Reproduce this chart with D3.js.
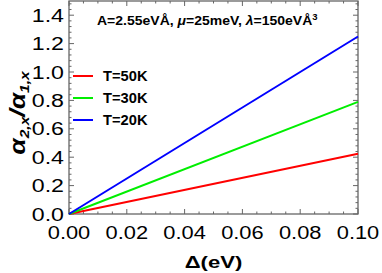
<!DOCTYPE html>
<html>
<head>
<meta charset="utf-8">
<script src="https://cdn.jsdelivr.net/npm/d3@7"></script>
<style>
  body { margin: 0; background: #fff; }
  text { font-family: "Liberation Sans", Arial, sans-serif; }
</style>
</head>
<body>
<svg id="chart" width="382" height="273"></svg>
<script>
const delta = [0, 0.1];
const series = [
    { name: "T=50K", color: "#ff0000", values: [0, 0.425] },
    { name: "T=30K", color: "#00ee00", values: [0, 0.79] },
    { name: "T=20K", color: "#0000ff", values: [0, 1.25] }
];
const xTicks = [0, 0.02, 0.04, 0.06, 0.08, 0.10];
const yTicks = [0, 0.2, 0.4, 0.6, 0.8, 1.0, 1.2, 1.4];

const width = 382;
const height = 273;
const margin = { top: 1, right: 24, bottom: 59, left: 69 };

const svg = d3.select("#chart");

const x = d3.scaleLinear().domain([0, 0.1]).range([margin.left, width - margin.right]);
const y = d3.scaleLinear().domain([0, 1.5]).range([height - margin.bottom, margin.top]);

const x0 = margin.left, x1 = width - margin.right;
const y0 = height - margin.bottom, y1 = margin.top;

// frame ticks on all four sides, pointing inward
const ticks = svg.append("g").attr("stroke", "#666").attr("stroke-width", 1);
const xMinor = d3.range(0, 0.1001, 0.005);
const yMinor = d3.range(0, 1.5001, 0.04);
xMinor.forEach((v, i) => {
    const len = i % 4 === 0 ? 5 : 2.5;
    ticks.append("line").attr("x1", x(v)).attr("x2", x(v)).attr("y1", y0).attr("y2", y0 - len);
    ticks.append("line").attr("x1", x(v)).attr("x2", x(v)).attr("y1", y1).attr("y2", y1 + len);
});
yMinor.forEach((v, i) => {
    const len = i % 5 === 0 ? 5 : 2.5;
    ticks.append("line").attr("y1", y(v)).attr("y2", y(v)).attr("x1", x0).attr("x2", x0 + len);
    ticks.append("line").attr("y1", y(v)).attr("y2", y(v)).attr("x1", x1).attr("x2", x1 - len);
});

svg.append("rect")
    .attr("x", x0).attr("y", y1)
    .attr("width", x1 - x0).attr("height", y0 - y1)
    .attr("fill", "none").attr("stroke", "#666").attr("stroke-width", 1.3);

// tick labels
svg.append("g").selectAll("text")
    .data(xTicks).join("text")
    .attr("transform", d => `translate(${x(d)},${y0 + 25}) scale(1.15,1)`)
    .attr("text-anchor", "middle")
    .attr("font-size", 19)
    .text(d => d3.format(".2f")(d));

svg.append("g").selectAll("text")
    .data(yTicks).join("text")
    .attr("transform", d => `translate(${x0 - 5},${y(d) + 6.5}) scale(1.22,1)`)
    .attr("text-anchor", "end")
    .attr("font-size", 19)
    .text(d => d3.format(".1f")(d));

// lines
const line = d3.line().x((d, i) => x(delta[i])).y(d => y(d));
svg.append("g").selectAll("path")
    .data(series).join("path")
    .attr("fill", "none")
    .attr("stroke", d => d.color)
    .attr("stroke-width", 2)
    .attr("d", d => line(d.values));

// legend
const legend = svg.append("g").selectAll("g")
    .data(series).join("g")
    .attr("transform", (d, i) => `translate(73,${76 + i * 22})`);
legend.append("line")
    .attr("x1", 0).attr("x2", 20)
    .attr("stroke", d => d.color).attr("stroke-width", 2);
legend.append("text")
    .attr("transform", `translate(30,5) scale(1.05,1)`)
    .attr("font-size", 14).attr("font-weight", "bold")
    .text(d => d.name);

// annotation
const note = svg.append("text")
    .attr("transform", `translate(97,25) scale(1.12,1)`)
    .attr("font-size", 12.5).attr("font-weight", "bold");
note.append("tspan").text("A=2.55eVÅ, ");
note.append("tspan").attr("font-style", "italic").text("μ");
note.append("tspan").text("=25meV, ");
note.append("tspan").attr("font-style", "italic").text("λ");
note.append("tspan").text("=150eVÅ");
note.append("tspan").attr("font-size", 8.5).attr("dy", -5).text("3");

// axis titles
svg.append("text")
    .attr("transform", `translate(${(x0 + x1) / 2},268) scale(1.3,1)`)
    .attr("text-anchor", "middle")
    .attr("font-size", 17).attr("font-weight", "bold")
    .text("Δ(eV)");

const yt = svg.append("text")
    .attr("transform", `translate(25,113) rotate(-90) scale(1.2,1)`)
    .attr("text-anchor", "middle")
    .attr("font-size", 22).attr("font-weight", "bold").attr("font-style", "italic");
yt.append("tspan").text("α");
yt.append("tspan").attr("font-size", 13).attr("dy", 4).text("2,x");
yt.append("tspan").attr("dy", -4).text("/α");
yt.append("tspan").attr("font-size", 13).attr("dy", 4).text("1,x");
</script>
</body>
</html>
